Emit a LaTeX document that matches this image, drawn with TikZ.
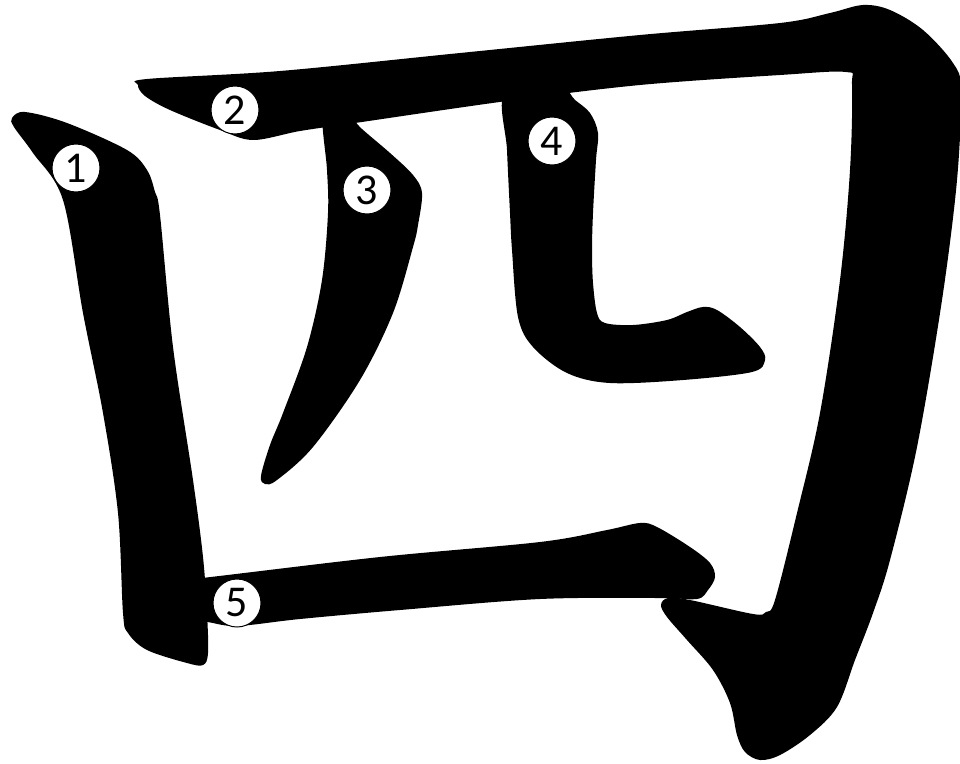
\documentclass[tikz,border=0pt]{standalone}
\usepackage{fontspec}
\setmainfont{Carlito}
\begin{document}
\begin{tikzpicture}[x=1pt,y=-1pt]
\tikzset{
  inkshape/.style={fill=black,draw=none},
  num/.style={circle,draw=black,line width=1pt,fill=white,minimum size=48pt,inner sep=0pt,font=\fontsize{44}{44}\selectfont}
}
\useasboundingbox (0,0) rectangle (960,763);
% stroke 1
\fill[inkshape] plot[smooth cycle,tension=0.55] coordinates {
 (12,118) (25,112) (67,123) (127,150) (147,170) (155,192) (160,215) (173,347) (193,480) (203,557) (207,613) (208,653) (203,665) (187,663) (147,650) (128,633) (123,613) (118,513) (103,413) (83,313) (63,200) (33,153) (14,127)};
% stroke 2
\fill[inkshape] plot[smooth cycle,tension=0.55] coordinates {
 (138,85) (147,79) (280,71) (460,53) (640,35) (780,23) (830,13) (863,5) (890,10) (923,30) (953,63) (961,90) (957,180) (942,300) (917,447) (890,560) (873,613) (855,660) (837,707) (810,735) (780,755) (760,760) (745,752) (737,735) (730,703) (713,670) (687,640) (667,617) (661,605) (668,598) (690,600) (753,614) (766,612) (775,600) (797,513) (820,413) (840,280) (850,170) (852,85) (846,72) (780,75) (640,85) (507,101) (355,123) (300,131) (253,140) (220,130) (170,110) (145,96)};
% stroke 3
\fill[inkshape] plot[smooth cycle,tension=0.55] coordinates {
 (323,112) (345,112) (362,129) (390,153) (413,175) (422,193) (418,225) (413,247) (393,313) (360,380) (313,447) (277,480) (265,484) (261,476) (270,445) (283,413) (307,347) (322,280) (328,213) (327,170)};
% stroke 4
\fill[inkshape] plot[smooth cycle,tension=0.55] coordinates {
 (505,92) (560,88) (575,100) (590,113) (598,133) (596,160) (593,213) (592,250) (593,283) (597,313) (605,323) (633,325) (667,320) (687,312) (703,307) (717,310) (740,327) (760,347) (765,360) (752,372) (683,380) (610,383) (567,373) (533,347) (518,317) (512,250) (510,213) (507,150)};
% stroke 5
\fill[inkshape] plot[smooth cycle,tension=0.55] coordinates {
 (190,578) (202,578) (380,557) (540,542) (607,530) (640,523) (657,527) (690,547) (710,563) (715,577) (708,590) (697,599) (660,598) (540,599) (400,610) (300,619) (237,626) (207,622) (190,622)};
% numbers
\node[num] (n1) at (76,168) {1};
\node[num] (n2) at (235,110) {2};
\node[num] (n3) at (367,190) {3};
\node[num] (n4) at (552,141) {4};
\node[num] (n5) at (237,603) {5};
\end{tikzpicture}
\end{document}
